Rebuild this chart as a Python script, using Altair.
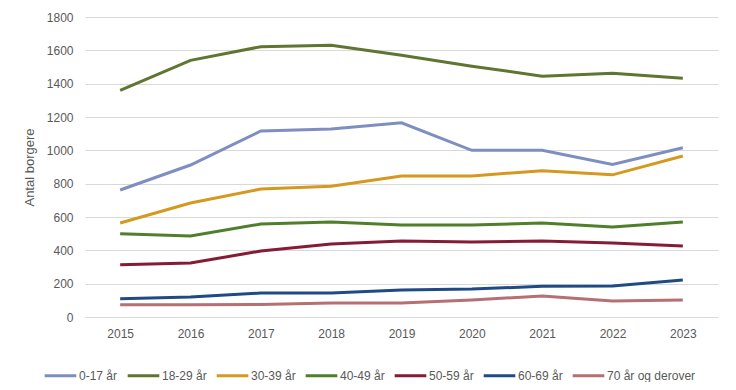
import altair as alt
import pandas as pd

years = ["2015", "2016", "2017", "2018", "2019", "2020", "2021", "2022", "2023"]
groups = ["0-17 år", "18-29 år", "30-39 år", "40-49 år", "50-59 år", "60-69 år", "70 år og derover"]
colors = ["#7F8EC0", "#5F7530", "#D4991E", "#4F7F2B", "#861B36", "#1F4A86", "#B66F72"]

v_0_17 = [762, 912, 1116, 1128, 1165, 1000, 1000, 915, 1015]
v_18_29 = [1360, 1540, 1622, 1630, 1570, 1505, 1445, 1462, 1432]
v_30_39 = [564, 684, 768, 785, 846, 846, 878, 853, 966]
v_40_49 = [500, 486, 558, 570, 552, 552, 564, 540, 570]
v_50_59 = [314, 324, 396, 438, 456, 450, 456, 444, 426]
v_60_69 = [110, 120, 144, 144, 162, 168, 184, 186, 222]
v_70 = [74, 74, 75, 84, 84, 102, 126, 96, 102]

series = [v_0_17, v_18_29, v_30_39, v_40_49, v_50_59, v_60_69, v_70]
rows = []
for g, vals in zip(groups, series):
    for y, v in zip(years, vals):
        rows.append({"year": y, "group": g, "value": v})
df = pd.DataFrame(rows)

font = "Liberation Sans"

chart = alt.Chart(df).mark_line(strokeWidth=3).encode(
    x=alt.X("year:O", sort=years,
            scale=alt.Scale(type="point", padding=0.5),
            axis=alt.Axis(title=None, labelAngle=0, ticks=False, domain=True,
                          domainColor="#D9D9D9", labelColor="#595959",
                          labelFontSize=12, labelFont=font, labelPadding=11, grid=False)),
    y=alt.Y("value:Q",
            scale=alt.Scale(domain=[0, 1800], nice=False),
            axis=alt.Axis(title="Antal borgere", values=list(range(0, 1801, 200)),
                          format="d",
                          ticks=False, domain=False, gridColor="#D9D9D9",
                          labelColor="#595959", labelFontSize=12, labelFont=font,
                          labelPadding=12, titleColor="#595959", titleFontSize=13,
                          titleFont=font, titleFontWeight="normal", titlePadding=10)),
    color=alt.Color("group:N", sort=groups,
                    scale=alt.Scale(domain=groups, range=colors),
                    legend=alt.Legend(title=None, orient="none", direction="horizontal",
                                      legendX=-42, legendY=341,
                                      symbolType="stroke", symbolSize=1000,
                                      symbolStrokeWidth=3, labelOffset=1,
                                      columnPadding=3, labelFontSize=12,
                                      labelFont=font, labelColor="#595959")),
).properties(
    width=633, height=300,
    autosize=alt.AutoSizeParams(type="none"),
    padding={"left": 77, "top": 9, "right": 10, "bottom": 65},
).configure_view(stroke=None)

chart.save("out.html", embed_options={"renderer": "svg", "actions": False})
